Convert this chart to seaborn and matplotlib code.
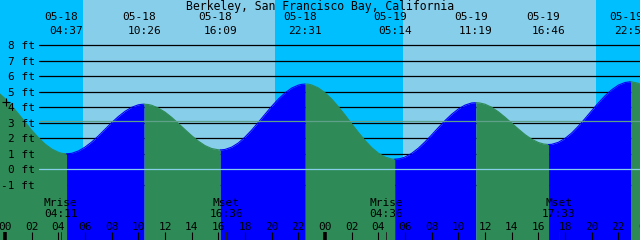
import numpy as np
import pandas as pd
import matplotlib
matplotlib.use("Agg")
import matplotlib.pyplot as plt
import matplotlib.transforms as mtransforms
import seaborn as sns

# ---------------- data ----------------
title = "Berkeley, San Francisco Bay, California"

# tide height (ft) at hours since 05-18 00:00
tide_hours = [-1, -0.5, 0, 0.5, 1, 1.5, 2, 2.5, 3, 3.5, 4, 4.25, 4.617,
              5, 5.5, 6, 6.5, 7, 7.5, 8, 8.5, 9, 9.5, 10, 10.25, 10.433,
              10.75, 11, 11.5, 12, 12.5, 13, 13.5, 14, 14.5, 15, 15.5, 16, 16.15,
              16.5, 17, 17.5, 18, 18.5, 19, 19.5, 20, 20.5, 21, 21.5, 22, 22.25, 22.517,
              22.75, 23, 23.5, 24, 24.5, 25, 25.5, 26, 26.5, 27, 27.5, 28, 28.5, 29, 29.233,
              29.6, 30, 30.5, 31, 31.5, 32, 32.5, 33, 33.5, 34, 34.5, 35, 35.317,
              35.6, 36, 36.5, 37, 37.5, 38, 38.5, 39, 39.5, 40, 40.4, 40.767,
              41, 41.5, 42, 42.5, 43, 43.5, 44, 44.5, 45, 45.5, 46, 46.5, 46.933,
              47, 47.5, 48]
tide_ft = [5.25, 4.95, 4.56, 4.09, 3.58, 3.05, 2.52, 2.04, 1.63, 1.31, 1.10, 1.03, 1.00,
           1.03, 1.18, 1.43, 1.76, 2.15, 2.58, 3.01, 3.40, 3.74, 4.00, 4.16, 4.19, 4.20,
           4.18, 4.13, 3.95, 3.69, 3.35, 2.96, 2.56, 2.17, 1.82, 1.53, 1.34, 1.26, 1.25,
           1.28, 1.43, 1.70, 2.08, 2.53, 3.03, 3.55, 4.06, 4.53, 4.93, 5.24, 5.43, 5.48, 5.50,
           5.49, 5.44, 5.25, 4.94, 4.53, 4.04, 3.50, 2.93, 2.38, 1.86, 1.40, 1.04, 0.79, 0.66, 0.65,
           0.68, 0.79, 1.03, 1.36, 1.77, 2.22, 2.69, 3.14, 3.55, 3.89, 4.14, 4.28, 4.30,
           4.28, 4.20, 4.00, 3.71, 3.36, 2.98, 2.60, 2.24, 1.94, 1.73, 1.63, 1.60,
           1.61, 1.74, 1.99, 2.34, 2.78, 3.27, 3.78, 4.28, 4.74, 5.13, 5.43, 5.60, 5.65,
           5.64, 5.55, 5.29]

# labelled high / low tides
event_hours = [4.617, 10.433, 16.15, 22.517, 29.233, 35.317, 40.767, 46.933]
event_dates = ["05-18", "05-18", "05-18", "05-18", "05-19", "05-19", "05-19", "05-19"]
event_times = ["04:37", "10:26", "16:09", "22:31", "05:14", "11:19", "16:46", "22:56"]

sunrise_hours = [5.87, 29.87]
sunset_hours = [20.25, 44.33]

moon_hours = [4.183, 16.6, 28.6, 41.55]
moon_names = ["Mrise", "Mset", "Mrise", "Mset"]
moon_times = ["04:11", "16:36", "04:36", "17:33"]

ft_levels = [8, 7, 6, 5, 4, 3, 2, 1, 0, -1]
ft_labels = ["8 ft", "7 ft", "6 ft", "5 ft", "4 ft", "3 ft", "2 ft", "1 ft", "0 ft", "-1 ft"]
msl_level = 3.13
mark_hour, mark_ft = 0.1, 4.34

hour_ticks = list(range(0, 49, 2))
hour_labels = ["%02d" % (h % 24) for h in hour_ticks]

# ---------------- styling ----------------
NIGHT = "#00BFFF"
DAY = "#87CEEB"
RISE = "#0000FF"
FALL = "#2E8B57"
W, H = 640, 240
PX_PER_H = 40 / 3.0
PX_PER_FT = 15.5
X0 = -5 / PX_PER_H
Y_TOP = 169.3 / PX_PER_FT
Y_BOT = (169.3 - H) / PX_PER_FT

sns.set_style("white")
plt.rcParams["font.family"] = ["DejaVu Sans Mono", "DejaVu Sans"]

fig = plt.figure(figsize=(W / 100, H / 100), dpi=100)
ax = fig.add_axes([0, 0, 1, 1])
ax.set_xlim(X0, X0 + W / PX_PER_H)
ax.set_ylim(Y_BOT, Y_TOP)
ax.set_axis_off()

def fy(px):
    return 1 - px / H

xt = ax.get_xaxis_transform()            # x data, y axes
yt = mtransforms.blended_transform_factory(ax.transAxes, ax.transData)

# day / night background
edges = [X0 - 1] + sorted(sunrise_hours + sunset_hours) + [X0 + W / PX_PER_H + 1]
for i in range(len(edges) - 1):
    ax.axvspan(edges[i], edges[i + 1], color=NIGHT if i % 2 == 0 else DAY, lw=0, zorder=0)

# grid lines
xmin_frac = 39 / W
for lvl in ft_levels:
    ax.axhline(lvl, xmin=xmin_frac, xmax=1, color="black", lw=0.9, zorder=1)

# tide fill: blue while rising, green while falling
t = np.array(tide_hours, float)
h = np.array(tide_ft, float)
rising = np.diff(h) > 0
start = 0
runs = []
for i in range(1, len(rising) + 1):
    if i == len(rising) or rising[i] != rising[start]:
        runs.append((start, i, rising[start]))
        start = i
for a, b, up in runs:
    col = RISE if up else FALL
    seg = pd.DataFrame({"hour": t[a:b + 1], "ft": h[a:b + 1]})
    ax.fill_between(seg["hour"], seg["ft"], Y_BOT - 5, color=col, lw=0, zorder=2)
    sns.lineplot(data=seg, x="hour", y="ft", color=col, lw=0.8, ax=ax,
                 estimator=None, sort=False, zorder=2)

# datum & mean level lines
ax.axhline(0, xmin=xmin_frac, xmax=1, color="#87CEEB", lw=0.9, zorder=3)
ax.axhline(msl_level, xmin=xmin_frac, xmax=1, color="#5fa08a", lw=0.9, zorder=3)

# y labels
for lvl, lab in zip(ft_levels, ft_labels):
    ax.text(35 / W, lvl - 4 / PX_PER_FT, lab, transform=yt, ha="right", va="baseline",
            fontsize=8, color="black", zorder=5)

ax.plot([mark_hour], [mark_ft], marker="+", ms=5.8, mew=0.8, color="black", zorder=5)

# title
ax.text(0.5, fy(10), title, transform=ax.transAxes, ha="center", va="baseline",
        fontsize=8.3, color="black", zorder=5)

# tide event labels
for eh, d, tm in zip(event_hours, event_dates, event_times):
    ax.text(eh - 5 / PX_PER_H, fy(20.5), d, transform=xt, ha="center", va="baseline",
            fontsize=8, color="black", zorder=5)
    ax.text(eh, fy(34), tm, transform=xt, ha="center", va="baseline",
            fontsize=8, color="black", zorder=5)

# moon labels and ticks
for mh, nm, tm in zip(moon_hours, moon_names, moon_times):
    ax.text(mh, fy(206), nm, transform=xt, ha="center", va="baseline",
            fontsize=8, color="black", zorder=5)
    ax.text(mh, fy(217), tm, transform=xt, ha="center", va="baseline",
            fontsize=8, color="black", zorder=5)
    ax.plot([mh, mh], [0, 8 / H], transform=xt, color="#222222", lw=0.7, zorder=5)

# hour labels and ticks
for hr, lab in zip(hour_ticks, hour_labels):
    ax.text(hr, fy(230), lab, transform=xt, ha="center", va="baseline",
            fontsize=8, color="black", zorder=5)
    lw = 2.6 if hr % 24 == 0 else 0.8
    ax.plot([hr, hr], [0, 8 / H], transform=xt, color="black", lw=lw,
            solid_capstyle="butt", zorder=5)

fig.savefig("out.png", dpi=100)
